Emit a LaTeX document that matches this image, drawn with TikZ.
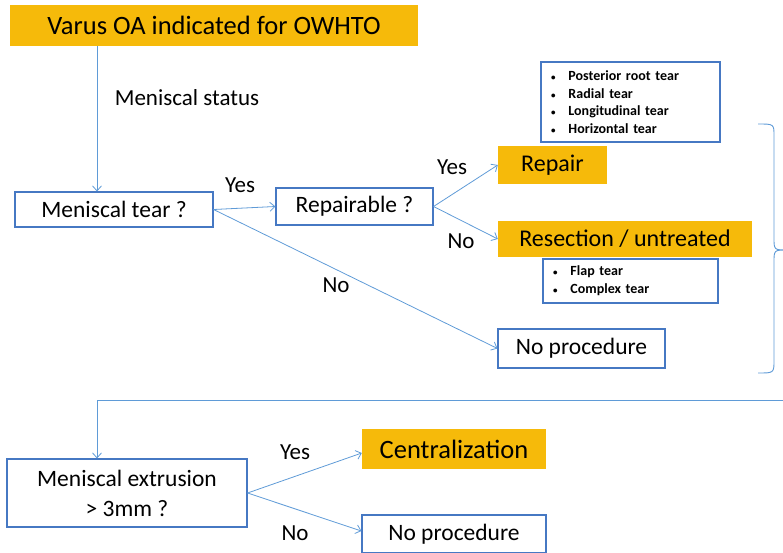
\documentclass[tikz,border=0pt]{standalone}
\usepackage{fontspec}
\setmainfont{Carlito}
\usetikzlibrary{arrows.meta}

\definecolor{boxorange}{RGB}{246,186,10}
\definecolor{boxblue}{RGB}{70,120,195}
\definecolor{lineblue}{RGB}{95,155,215}

\newcommand{\dotitem}{{\fontsize{9}{9}\selectfont\textbullet}\hspace{13pt}}

\tikzset{
  orangebox/.style={fill=boxorange, inner sep=0pt, font=\fontsize{24}{28}\selectfont},
  bluebox/.style={draw=boxblue, line width=1.1pt, fill=white, inner sep=0pt, align=center, font=\fontsize{23.5}{30}\selectfont},
  listbox/.style={draw=boxblue, line width=1.1pt, fill=white, inner xsep=10pt, inner ysep=0pt, align=left, font=\bfseries\fontsize{14}{17.7}\selectfont},
  lbl/.style={font=\fontsize{23}{28}\selectfont},
  conn/.style={draw=lineblue, line width=0.8pt, -{Straight Barb[length=5pt,width=9pt]}},
}

\begin{document}
\begin{tikzpicture}[x=1pt, y=-1pt]
\useasboundingbox (0,0) rectangle (783,553);
\clip (0,0) rectangle (783,553);

% boxes
\node[orangebox, minimum width=408, minimum height=41, font=\fontsize{26.5}{30}\selectfont] (varus) at (214,25.5) {Varus OA indicated for OWHTO};
\node[bluebox, minimum width=198, minimum height=35] (tear) at (114,209.5) {Meniscal tear ?};
\node[bluebox, minimum width=157, minimum height=37] (repairable) at (354.5,206.5) {Repairable ?};
\node[orangebox, minimum width=109, minimum height=38] (repair) at (552.5,165) {Repair};
\node[orangebox, minimum width=254, minimum height=36] (resection) at (625,239) {Resection / untreated};
\node[bluebox, minimum width=167, minimum height=39] (noproc) at (581.5,348.5) {No procedure};
\node[listbox, text width=159, minimum height=80] (repairlist) at (630.5,102)
  {\dotitem Posterior root tear\\ \dotitem Radial tear\\ \dotitem Longitudinal tear\\ \dotitem Horizontal tear};
\node[listbox, text width=155, minimum height=44] (resectlist) at (630.5,281)
  {\dotitem Flap tear\\ \dotitem Complex tear};
\node[bluebox, minimum width=240, minimum height=68] (extrusion) at (127,493) {Meniscal extrusion\\ > 3mm ?};
\node[orangebox, minimum width=184, minimum height=40, font=\fontsize{26.5}{30}\selectfont] (central) at (454,449) {Centralization};
\node[bluebox, minimum width=184, minimum height=38] (noproctwo) at (454,534) {No procedure};

% labels
\node[lbl] (status) at (187,98) {Meniscal status};
\node[lbl] (yesA) at (240,185) {Yes};
\node[lbl] (yesB) at (452,167) {Yes};
\node[lbl] (noB) at (461,241) {No};
\node[lbl] (noA) at (336,285) {No};
\node[lbl] (yesC) at (295,452) {Yes};
\node[lbl] (noC) at (295,533) {No};

% connectors
\coordinate (split) at (97,0);
\coordinate (braceout) at (783,400);
\draw[conn] (varus.south -| split) -- (tear.north -| split);
\draw[conn] (tear.east) -- (repairable.west);
\draw[conn] (tear.east) -- (noproc.west);
\draw[conn] (repairable.east) -- (repair.west);
\draw[conn] (repairable.east) -- (resection.west);
\draw[conn] (braceout) -- (braceout -| split) -- (extrusion.north -| split);
\draw[conn] (extrusion.east) -- ([yshift=-4pt]central.west);
\draw[conn] (extrusion.east) -- ([yshift=3pt]noproctwo.west);

% brace
\draw[lineblue, line width=0.9pt] (758,124) .. controls (774,124) .. (774,136) -- (774,238)
  .. controls (774,250) .. (788,250) .. controls (774,250) .. (774,262) -- (774,360)
  .. controls (774,373) .. (758,373);
\end{tikzpicture}
\end{document}
